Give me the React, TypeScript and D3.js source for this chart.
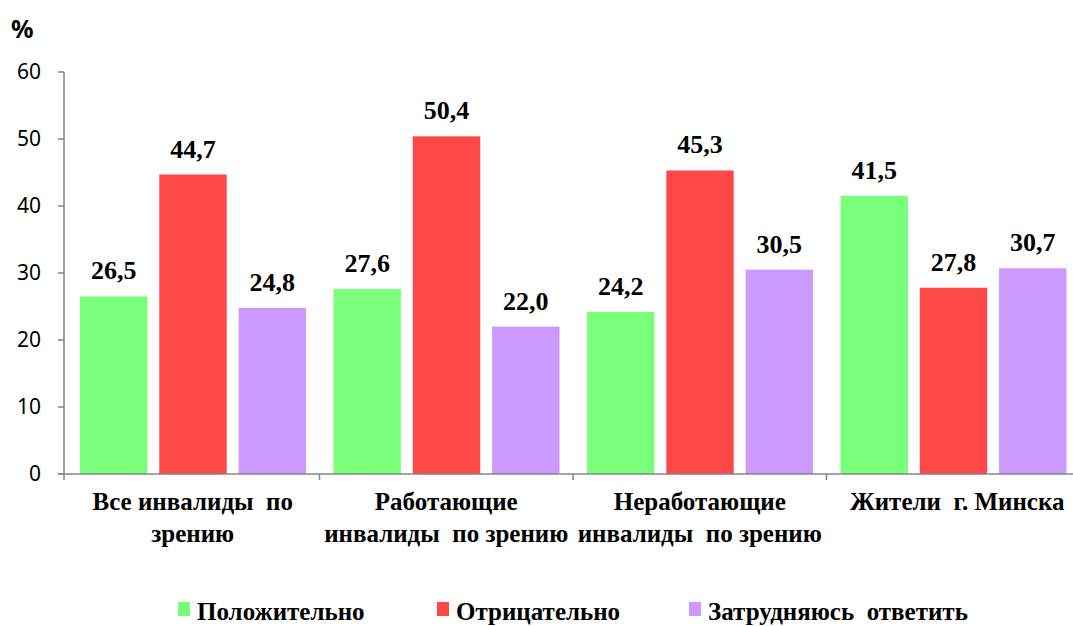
import { useMemo } from 'react';
import * as d3 from 'd3';

const categories = [
  ['Все инвалиды  по', 'зрению'],
  ['Работающие', 'инвалиды  по зрению'],
  ['Неработающие', 'инвалиды  по зрению'],
  ['Жители  г. Минска'],
];
const seriesNames = ['Положительно', 'Отрицательно', 'Затрудняюсь  ответить'];
const positive = [26.5, 27.6, 24.2, 41.5];
const negative = [44.7, 50.4, 45.3, 27.8];
const undecided = [24.8, 22.0, 30.5, 30.7];
const yTicks = [0, 10, 20, 30, 40, 50, 60];

const colors = ['#79FF79', '#FF4747', '#CC99FF'];
const axisColor = '#868686';

const W = 1073;
const H = 626;
const serif = '"Liberation Serif", "Times New Roman", serif';

export default function App() {
  const series = [positive, negative, undecided];

  const x = useMemo(
    () => d3.scaleBand<number>().domain(d3.range(categories.length)).range([66, 1080]).padding(0),
    [],
  );
  const inner = useMemo(
    () => d3.scaleBand<number>().domain(d3.range(series.length)).range([14, 240]).paddingInner(0.15).paddingOuter(0),
    [series.length],
  );
  const y = useMemo(() => d3.scaleLinear().domain([0, 60]).range([474, 72]), []);

  const fmt = (v: number) => v.toFixed(1).replace('.', ',');
  const legendX = [178, 437, 689];

  return (
    <div style={{ position: 'absolute', left: 0, top: 0 }}>
      <svg width={W} height={H} style={{ display: 'block' }}>
        <rect width={W} height={H} fill="#fff" />
        {/* y axis */}
        <line x1={64} x2={64} y1={y(60)} y2={y(0)} stroke={axisColor} strokeWidth={1.5} />
        {yTicks.map((t) => (
          <g key={t}>
            <line x1={58} x2={64} y1={y(t)} y2={y(t)} stroke={axisColor} strokeWidth={1.5} />
            <text
              x={41}
              y={y(t)}
              dy="0.35em"
              textAnchor="end"
              fontFamily='"Noto Sans", "Open Sans", sans-serif'
              fontSize={21}
              fill="#000"
            >
              {t}
            </text>
          </g>
        ))}
        <text x={11} y={38} fontFamily='"Noto Sans", sans-serif' fontWeight="bold" fontSize={25}>
          %
        </text>

        {/* bars */}
        {categories.map((_, ci) => (
          <g key={ci} transform={`translate(${x(ci)},0)`}>
            {series.map((s, si) => (
              <g key={si}>
                <rect
                  x={inner(si)}
                  y={y(s[ci])}
                  width={inner.bandwidth()}
                  height={y(0) - y(s[ci])}
                  fill={colors[si]}
                />
                <text
                  x={(inner(si) ?? 0) + inner.bandwidth() / 2}
                  y={y(s[ci]) - 17}
                  textAnchor="middle"
                  fontFamily={serif}
                  fontWeight="bold"
                  fontSize={26}
                >
                  {fmt(s[ci])}
                </text>
              </g>
            ))}
          </g>
        ))}

        {/* x axis */}
        <line x1={58} x2={W} y1={y(0)} y2={y(0)} stroke={axisColor} strokeWidth={1.5} />
        {[64, ...categories.slice(1).map((_, i) => x(i + 1) ?? 0)].map((tx, i) => (
          <line key={i} x1={tx} x2={tx} y1={y(0)} y2={y(0) + 6} stroke={axisColor} strokeWidth={1.5} />
        ))}
        {categories.map((lines, ci) => (
          <text
            key={ci}
            x={(x(ci) ?? 0) + x.bandwidth() / 2}
            y={510}
            textAnchor="middle"
            fontFamily={serif}
            fontWeight="bold"
            fontSize={25}
            style={{ whiteSpace: 'pre' }}
          >
            {lines.map((l, li) => (
              <tspan key={li} x={(x(ci) ?? 0) + x.bandwidth() / 2 + (ci === 3 ? 4 : 0)} dy={li === 0 ? 0 : 32}>
                {l}
              </tspan>
            ))}
          </text>
        ))}

        {/* legend */}
        {seriesNames.map((name, si) => (
          <g key={si}>
            <rect x={legendX[si]} y={602} width={12} height={14} fill={colors[si]} />
            <text
              x={legendX[si] + 19}
              y={620}
              fontFamily={serif}
              fontWeight="bold"
              fontSize={25}
              style={{ whiteSpace: 'pre' }}
            >
              {name}
            </text>
          </g>
        ))}
      </svg>
    </div>
  );
}
